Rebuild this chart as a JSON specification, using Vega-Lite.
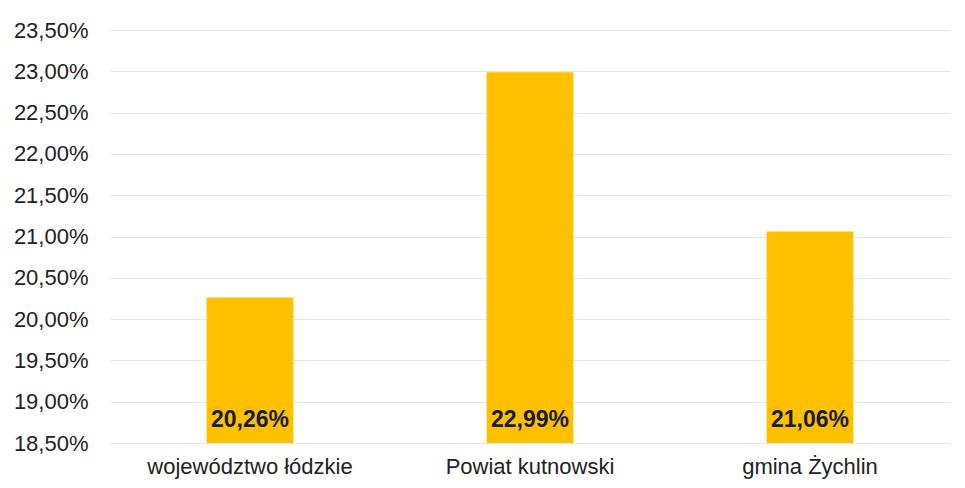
{
  "$schema": "https://vega.github.io/schema/vega-lite/v6.json",
  "width": 840,
  "height": 413,
  "autosize": "none",
  "padding": {"left": 110, "top": 30, "right": 15, "bottom": 45},
  "background": "white",
  "config": {
    "locale": {"number": {"decimal": ",", "thousands": " ", "grouping": [3], "currency": ["", " zł"]}},
    "view": {"stroke": null},
    "font": "Liberation Sans"
  },
  "data": {"values": [
    {"region": "województwo łódzkie", "value": 0.2026},
    {"region": "Powiat kutnowski", "value": 0.2299},
    {"region": "gmina Żychlin", "value": 0.2106}
  ]},
  "encoding": {
    "x": {
      "field": "region", "type": "nominal", "sort": null,
      "scale": {"paddingInner": 0.69, "paddingOuter": 0.345},
      "axis": {"title": null, "labelAngle": 0, "labelFontSize": 22, "labelColor": "#222222", "labelPadding": 13, "labelLimit": 0, "ticks": false, "domain": false}
    }
  },
  "layer": [
    {
      "mark": {"type": "bar", "color": "#FFC000", "clip": true},
      "encoding": {
        "y": {
          "field": "value", "type": "quantitative",
          "scale": {"domain": [0.185, 0.235], "zero": false, "nice": false},
          "axis": {"title": null, "format": ".2%", "values": [0.185, 0.19, 0.195, 0.2, 0.205, 0.21, 0.215, 0.22, 0.225, 0.23, 0.235], "labelFontSize": 22, "labelColor": "#222222", "labelPadding": 22, "ticks": false, "domain": false, "gridColor": "#e6e6e6", "gridWidth": 1}
        }
      }
    },
    {
      "mark": {"type": "text", "fontSize": 23, "fontWeight": "bold", "color": "#1a1a2a", "baseline": "bottom", "dy": -11},
      "encoding": {
        "y": {"datum": 0.185, "type": "quantitative"},
        "text": {"field": "value", "type": "quantitative", "format": ".2%"}
      }
    }
  ]
}
